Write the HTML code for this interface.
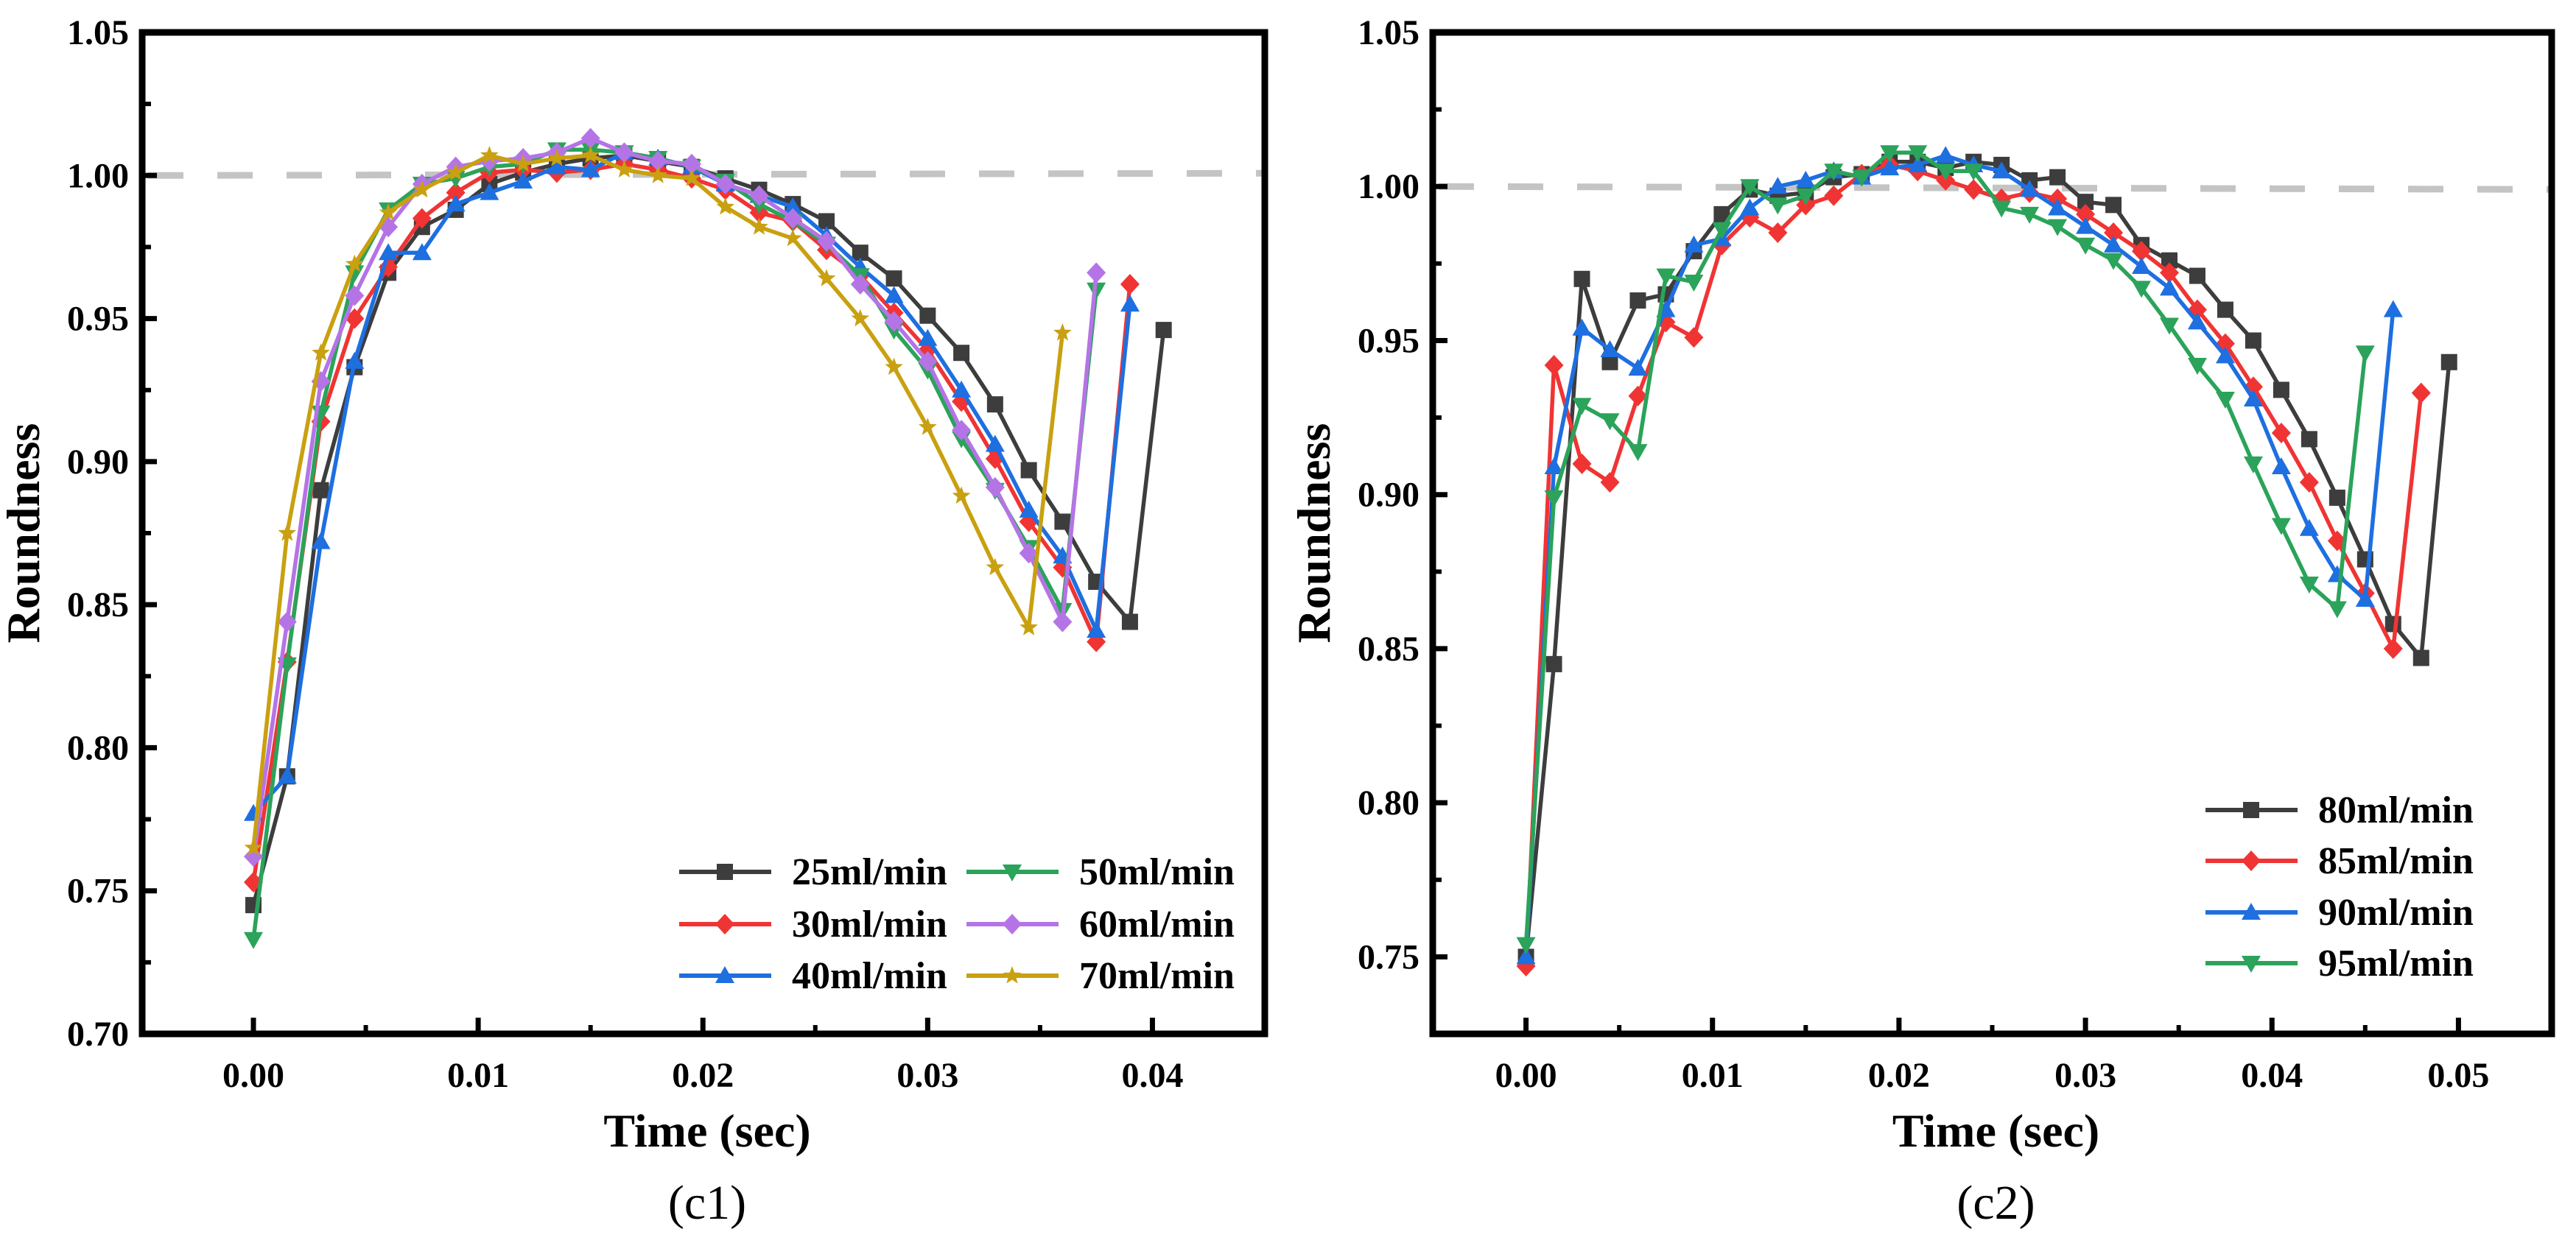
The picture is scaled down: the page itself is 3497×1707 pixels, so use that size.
<!DOCTYPE html>
<html><head><meta charset="utf-8"><style>
html,body{margin:0;padding:0;background:#fff;}
svg{display:block;font-family:"Liberation Serif",serif;}
</style></head><body>
<svg id="fig" width="3497" height="1707" viewBox="0 0 3497 1707" xmlns="http://www.w3.org/2000/svg"></svg>
<script>
const NS="http://www.w3.org/2000/svg";
const svg=document.getElementById('fig');
// ---- data: panel c1 ----
const c1Labels=["25ml/min","30ml/min","40ml/min","50ml/min","60ml/min","70ml/min"];
const c1S25=[0.745,0.79,0.89,0.933,0.966,0.982,0.988,0.997,1.001,1.004,1.006,1.007,1.005,1.003,0.999,0.995,0.990,0.984,0.973,0.964,0.951,0.938,0.920,0.897,0.879,0.858,0.844,0.946];
const c1S30=[0.753,0.83,0.914,0.950,0.968,0.985,0.994,1.001,1.002,1.001,1.002,1.004,1.002,0.999,0.995,0.987,0.984,0.974,0.965,0.952,0.939,0.921,0.901,0.879,0.863,0.837,0.962];
const c1S40=[0.777,0.79,0.872,0.935,0.973,0.973,0.990,0.994,0.998,1.003,1.002,1.008,1.006,1.003,0.997,0.993,0.989,0.979,0.968,0.958,0.943,0.925,0.906,0.883,0.867,0.841,0.955];
const c1S50=[0.733,0.829,0.917,0.966,0.988,0.997,0.999,1.003,1.004,1.009,1.009,1.008,1.006,1.003,0.998,0.990,0.984,0.976,0.965,0.946,0.932,0.908,0.890,0.870,0.848,0.960];
const c1S60=[0.762,0.844,0.928,0.958,0.982,0.997,1.003,1.005,1.006,1.008,1.013,1.008,1.005,1.004,0.997,0.993,0.985,0.977,0.962,0.949,0.935,0.911,0.891,0.868,0.844,0.966];
const c1S70=[0.765,0.875,0.938,0.969,0.987,0.995,1.001,1.007,1.004,1.006,1.007,1.002,1.000,0.999,0.989,0.982,0.978,0.964,0.950,0.933,0.912,0.888,0.863,0.842,0.945];
const c1XTicks=[0,0.01,0.02,0.03,0.04];
const c1YTicks=[0.70,0.75,0.80,0.85,0.90,0.95,1.00,1.05];
// ---- data: panel c2 ----
const c2Labels=["80ml/min","85ml/min","90ml/min","95ml/min"];
const c2S80=[0.75,0.845,0.970,0.943,0.963,0.965,0.979,0.991,0.999,0.997,0.998,1.003,1.004,1.008,1.008,1.006,1.008,1.007,1.002,1.003,0.995,0.994,0.981,0.976,0.971,0.960,0.950,0.934,0.918,0.899,0.879,0.858,0.847,0.943];
const c2S85=[0.747,0.942,0.910,0.904,0.932,0.956,0.951,0.981,0.990,0.985,0.994,0.997,1.004,1.007,1.005,1.002,0.999,0.996,0.998,0.996,0.991,0.985,0.979,0.972,0.960,0.949,0.935,0.920,0.904,0.885,0.868,0.850,0.933];
const c2S90=[0.750,0.909,0.954,0.947,0.941,0.960,0.981,0.983,0.993,1.000,1.002,1.005,1.003,1.006,1.007,1.010,1.007,1.005,0.999,0.993,0.987,0.981,0.974,0.967,0.956,0.945,0.931,0.909,0.889,0.874,0.866,0.960];
const c2S95=[0.754,0.899,0.929,0.924,0.914,0.971,0.969,0.986,1.000,0.994,0.997,1.005,1.003,1.011,1.011,1.005,1.005,0.993,0.991,0.987,0.981,0.976,0.967,0.955,0.942,0.931,0.910,0.890,0.871,0.863,0.946];
const c2XTicks=[0,0.01,0.02,0.03,0.04,0.05];
const c2YTicks=[0.75,0.80,0.85,0.90,0.95,1.00,1.05];
const timeStep=0.0015;

function mk(tag,attrs,parent){const e=document.createElementNS(NS,tag);for(const k in attrs)e.setAttribute(k,attrs[k]);(parent||svg).appendChild(e);return e;}

function marker(g,type,x,y,c){
  const s=11;let e;
  if(type==='sq')e=mk('rect',{x:x-s,y:y-s,width:2*s,height:2*s,fill:c},g);
  else if(type==='di')e=mk('polygon',{points:`${x},${y-14} ${x+13},${y} ${x},${y+14} ${x-13},${y}`,fill:c},g);
  else if(type==='up')e=mk('polygon',{points:`${x},${y-13} ${x+13},${y+10} ${x-13},${y+10}`,fill:c},g);
  else if(type==='dn')e=mk('polygon',{points:`${x},${y+13} ${x+13},${y-10} ${x-13},${y-10}`,fill:c},g);
  else{let p=[];for(let i=0;i<10;i++){const r=i%2?5.5:13,a=-Math.PI/2+i*Math.PI/5;p.push((x+r*Math.cos(a)).toFixed(1)+','+(y+r*Math.sin(a)).toFixed(1));}e=mk('polygon',{points:p.join(' '),fill:c},g);}
  
  
}

function panel(cfg){
  const {L,R,T,B,xmin,xmax,ymin,ymax}=cfg;
  const X=v=>L+(v-xmin)/(xmax-xmin)*(R-L);
  const Y=v=>B-(v-ymin)/(ymax-ymin)*(B-T);
  const g=mk('g',{});
  
  
  // reference dashed line
  const ref=mk('line',{x1:L+8,y1:Y(1.0),x2:R-4,y2:Y(1.0)+cfg.refSlope,stroke:'#c4c4c4','stroke-width':9,'stroke-dasharray':'48 46'},g);
  
  
  // series
  cfg.series.forEach((s,si)=>{
    const sg=mk('g',{},g);
    
    
    const pts=s.vals.map((v,i)=>X(i*timeStep).toFixed(1)+','+Y(v).toFixed(1)).join(' ');
    const pl=mk('polyline',{points:pts,fill:'none',stroke:s.c,'stroke-width':5.5,'stroke-linejoin':'round'},sg);
    
    
    s.vals.forEach((v,i)=>marker(sg,s.m,X(i*timeStep),Y(v),s.c));
  });
  // frame
  const fr=mk('rect',{x:L,y:T,width:R-L,height:B-T,fill:'none',stroke:'#000','stroke-width':9},g);
  
  
  // x ticks
  cfg.xticks.forEach((t,i)=>{
    const x=X(t);
    const tk=mk('line',{x1:x,y1:B,x2:x,y2:B-22,stroke:'#000','stroke-width':7},g);
    
    
    const mx=X(t+0.005);
    if(mx<R-5){const mt=mk('line',{x1:mx,y1:B,x2:mx,y2:B-12,stroke:'#000','stroke-width':6},g);
      
      }
    const tx=mk('text',{x:x,y:B+72,'text-anchor':'middle','font-size':48,'font-weight':'bold'},g);
    tx.textContent=t.toFixed(2);
    
    
  });
  const mxl=X(cfg.xticks[0]-0.005);
  if(mxl>L+5){const mt=mk('line',{x1:mxl,y1:B,x2:mxl,y2:B-12,stroke:'#000','stroke-width':6},g);
    }
  // y ticks
  cfg.yticks.forEach(t=>{
    const y=Y(t);
    const tk=mk('line',{x1:L,y1:y,x2:L+20,y2:y,stroke:'#000','stroke-width':7},g);
    
    
    const my=Y(t-0.025);
    if(my<B-5){const mt=mk('line',{x1:L,y1:my,x2:L+12,y2:my,stroke:'#000','stroke-width':6},g);
      }
    const tx=mk('text',{x:L-18,y:y+16,'text-anchor':'end','font-size':48,'font-weight':'bold'},g);
    tx.textContent=t.toFixed(2);
    
    
  });
  // axis titles
  const xt=mk('text',{x:(L+R)/2+5,y:1557,'text-anchor':'middle','font-size':64,'font-weight':'bold'},g);
  xt.textContent='Time (sec)';
  
  
  const yt=mk('text',{x:0,y:0,'text-anchor':'middle','font-size':64,'font-weight':'bold',transform:`translate(${L-140},${(T+B)/2}) rotate(-90)`},g);
  yt.textContent='Roundness';
  
  
  const cap=mk('text',{x:(L+R)/2+5,y:1655,'text-anchor':'middle','font-size':66},g);
  cap.textContent=cfg.caption;
  
  
  // legend
  const lg=mk('g',{},g);
  
  
  cfg.series.forEach((s,i)=>{
    const pos=cfg.legendPos[i];
    const eg=mk('g',{},lg);
    
    
    const ln=mk('line',{x1:pos[0],y1:pos[1],x2:pos[0]+125,y2:pos[1],stroke:s.c,'stroke-width':6},eg);
    
    
    marker(eg,s.m,pos[0]+62,pos[1],s.c);
    const tx=mk('text',{x:pos[0]+153,y:pos[1]+17,'font-size':52,'font-weight':'bold'},eg);
    tx.textContent=cfg.labels[i];
    
    
  });
}

const BL='#3d3d3d',RD='#f03434',BU='#1e6fe0',GR='#2ba35a',PU='#b574e6',GD='#c9a010';
panel({name:'chart-c1',caption:'(c1)',L:193,R:1717,T:44,B:1404,xmin:-0.00495,xmax:0.045,ymin:0.70,ymax:1.05,refSlope:-3,
  labels:c1Labels,xticks:c1XTicks,yticks:c1YTicks,
  series:[{vals:c1S25,c:BL,m:'sq'},{vals:c1S30,c:RD,m:'di'},{vals:c1S40,c:BU,m:'up'},{vals:c1S50,c:GR,m:'dn'},{vals:c1S60,c:PU,m:'di'},{vals:c1S70,c:GD,m:'st'}],
  legendPos:[[922,1184],[922,1255],[922,1325],[1312,1184],[1312,1255],[1312,1325]]});
panel({name:'chart-c2',caption:'(c2)',L:1945,R:3464,T:44,B:1404,xmin:-0.005,xmax:0.055,ymin:0.725,ymax:1.05,refSlope:4,
  labels:c2Labels,xticks:c2XTicks,yticks:c2YTicks,
  series:[{vals:c2S80,c:BL,m:'sq'},{vals:c2S85,c:RD,m:'di'},{vals:c2S90,c:BU,m:'up'},{vals:c2S95,c:GR,m:'dn'}],
  legendPos:[[2994,1100],[2994,1169],[2994,1239],[2994,1308]]});
</script>
</body></html>
